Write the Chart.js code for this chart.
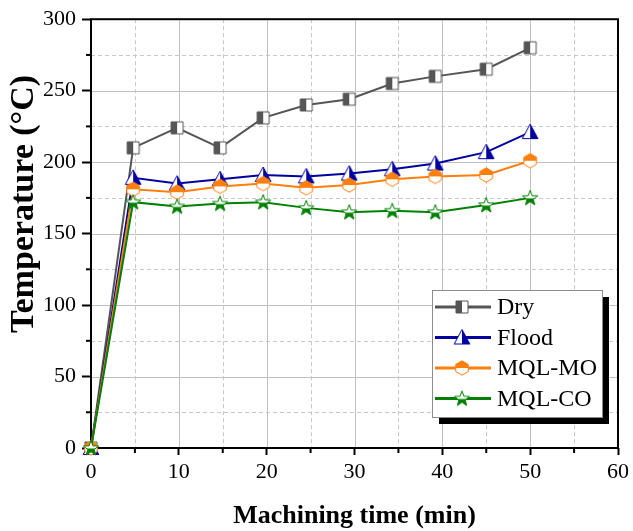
<!DOCTYPE html>
<html>
<head>
<meta charset="utf-8">
<script src="https://cdn.jsdelivr.net/npm/chart.js@4.4.1/dist/chart.umd.min.js"></script>
<style>
  html, body { margin: 0; padding: 0; background: #fff; }
  #wrap { width: 633px; height: 531px; }
</style>
</head>
<body>
<div id="wrap"><canvas id="myChart" width="633" height="531"></canvas></div>
<script>
// data
const timeMin = [0, 4.8, 9.8, 14.7, 19.6, 24.5, 29.4, 34.3, 39.2, 45, 50];
const seriesNames = ['Dry', 'Flood', 'MQL-MO', 'MQL-CO'];
const dryTemp = [0, 210, 224, 210, 231, 240, 244, 255, 260, 265, 280];
const floodTemp = [0, 189, 185, 188, 191, 190, 192, 195, 199, 207, 221];
const mqlMoTemp = [0, 181, 179, 183, 185, 182, 184, 188, 190, 191, 201];
const mqlCoTemp = [0, 172, 169, 171, 172, 168, 165, 166, 165, 170, 175];
const xTicks = [0, 10, 20, 30, 40, 50, 60];
const yTicks = [0, 50, 100, 150, 200, 250, 300];
const xTitle = 'Machining time (min)';
const yTitle = 'Temperature (°C)';

const FONT = '"Liberation Serif", "Times New Roman", serif';

// half filled marker images
const marker = (shape, color, half) => {
    const c = document.createElement('canvas');
    c.width = 18; c.height = 18;
    const g = c.getContext('2d');
    const path = () => {
        g.beginPath();
        if (shape === 'square') {
            g.rect(3, 3, 12, 12);
        } else if (shape === 'triangle') {
            g.moveTo(9, 1); g.lineTo(16.8, 15.5); g.lineTo(1.2, 15.5); g.closePath();
        } else if (shape === 'hex') {
            for (let i = 0; i < 6; i++) {
                const a = Math.PI / 2 + i * Math.PI / 3;
                g.lineTo(9 + 7.2 * Math.cos(a), 9 + 7.2 * Math.sin(a));
            }
            g.closePath();
        } else {
            for (let i = 0; i < 10; i++) {
                const r = i % 2 ? 3.3 : 8;
                const a = -Math.PI / 2 + i * Math.PI / 5;
                g.lineTo(9 + r * Math.cos(a), 9.5 + r * Math.sin(a));
            }
            g.closePath();
        }
    };
    path();
    g.fillStyle = '#fff'; g.fill();
    g.save();
    g.beginPath();
    if (half === 'left') g.rect(0, 0, 9, 18);
    if (half === 'right') g.rect(9, 0, 9, 18);
    if (half === 'top') g.rect(0, 0, 18, 9);
    if (half === 'bottom') g.rect(0, 9.5, 18, 9);
    g.clip();
    path();
    g.fillStyle = color; g.fill();
    g.restore();
    path();
    g.lineWidth = 1; g.strokeStyle = color; g.stroke();
    return c;
};

const colors = ['#555555', '#0000a0', '#ff7f0e', '#008000'];
const markers = [
    marker('square', colors[0], 'left'),
    marker('triangle', colors[1], 'right'),
    marker('hex', colors[2], 'top'),
    marker('star', colors[3], 'bottom')
];
const values = [dryTemp, floodTemp, mqlMoTemp, mqlCoTemp];

const datasets = seriesNames.map((name, i) => ({
    label: name,
    data: timeMin.map((t, j) => ({x: t, y: values[i][j]})),
    borderColor: colors[i],
    backgroundColor: colors[i],
    borderWidth: 2,
    pointStyle: markers[i],
    pointRadius: 6,
    clip: false,
    order: 4 - i
}));

// grid (solid major, dashed minor), minor ticks, frame, titles and legend box
const framePlugin = {
    id: 'frame',
    beforeDatasetsDraw(chart) {
        const {ctx, chartArea: a, scales: {x, y}} = chart;
        ctx.save();
        ctx.lineWidth = 1;
        for (let v = 5; v < 60; v += 5) {
            const px = Math.round(x.getPixelForValue(v)) + 0.5;
            ctx.strokeStyle = v % 10 ? '#c8c8c8' : '#c0c0c0';
            ctx.setLineDash(v % 10 ? [4, 3] : []);
            ctx.beginPath(); ctx.moveTo(px, a.top); ctx.lineTo(px, a.bottom); ctx.stroke();
        }
        for (let v = 25; v < 300; v += 25) {
            const py = Math.round(y.getPixelForValue(v)) + 0.5;
            ctx.strokeStyle = v % 50 ? '#c8c8c8' : '#c0c0c0';
            ctx.setLineDash(v % 50 ? [4, 3] : []);
            ctx.beginPath(); ctx.moveTo(a.left, py); ctx.lineTo(a.right, py); ctx.stroke();
        }
        ctx.setLineDash([]);
        ctx.strokeStyle = '#000';
        ctx.lineWidth = 2;
        for (let v = 5; v < 60; v += 10) {
            const px = x.getPixelForValue(v);
            ctx.beginPath(); ctx.moveTo(px, a.bottom); ctx.lineTo(px, a.bottom + 5); ctx.stroke();
        }
        for (let v = 25; v < 300; v += 50) {
            const py = y.getPixelForValue(v);
            ctx.beginPath(); ctx.moveTo(a.left, py); ctx.lineTo(a.left - 5, py); ctx.stroke();
        }
        ctx.strokeRect(a.left, a.top, a.right - a.left, a.bottom - a.top);

        // axis titles
        ctx.fillStyle = '#000';
        ctx.textAlign = 'center';
        ctx.textBaseline = 'alphabetic';
        ctx.font = 'bold 26px ' + FONT;
        ctx.fillText(xTitle, (a.left + a.right) / 2, 523);
        ctx.translate(33, 204);
        ctx.rotate(-Math.PI / 2);
        ctx.font = 'bold 34px ' + FONT;
        ctx.fillText(yTitle, 0, 0);
        ctx.restore();
    },
    afterDraw(chart) {
        const ctx = chart.ctx;
        const bx = 432, by = 290, bw = 170, bh = 127;
        ctx.save();
        ctx.fillStyle = '#000';
        ctx.fillRect(bx + 7, by + 7, bw, bh);
        ctx.fillStyle = '#fff';
        ctx.fillRect(bx, by, bw, bh);
        ctx.strokeStyle = '#8c8c8c';
        ctx.lineWidth = 1;
        ctx.strokeRect(bx + 0.5, by + 0.5, bw, bh);
        ctx.font = '24px ' + FONT;
        ctx.textBaseline = 'middle';
        chart.data.datasets.forEach((ds, i) => {
            const ry = by + 17 + i * 30.5;
            ctx.strokeStyle = ds.borderColor;
            ctx.lineWidth = 3;
            ctx.beginPath(); ctx.moveTo(bx + 3, ry); ctx.lineTo(bx + 59, ry); ctx.stroke();
            ctx.drawImage(ds.pointStyle, bx + 30 - 9, ry - 9);
            ctx.fillStyle = '#000';
            ctx.fillText(ds.label, bx + 65, ry + 1);
        });
        ctx.restore();
    }
};

new Chart(document.getElementById('myChart'), {
    type: 'line',
    data: {datasets},
    options: {
        responsive: false,
        animation: false,
        layout: {padding: {top: 11, right: 14, left: 0, bottom: 0}},
        plugins: {legend: {display: false}, tooltip: {enabled: false}},
        scales: {
            x: {
                type: 'linear', min: 0, max: 60,
                afterBuildTicks: s => { s.ticks = xTicks.map(v => ({value: v})); },
                afterFit: s => { s.height = 83; },
                grid: {drawOnChartArea: false, tickLength: 7, tickWidth: 2, tickColor: '#000'},
                border: {display: false},
                ticks: {color: '#000', font: {family: FONT, size: 22}, padding: 4, maxRotation: 0}
            },
            y: {
                min: 0, max: 300,
                afterBuildTicks: s => { s.ticks = yTicks.map(v => ({value: v})); },
                afterFit: s => { s.width = 91; },
                grid: {drawOnChartArea: false, tickLength: 9, tickWidth: 2, tickColor: '#000'},
                border: {display: false},
                ticks: {color: '#000', font: {family: FONT, size: 22}, padding: 6}
            }
        }
    },
    plugins: [framePlugin, {
        id: 'bg',
        beforeDraw(chart) {
            const c = chart.ctx;
            c.save(); c.fillStyle = '#fff'; c.fillRect(0, 0, chart.width, chart.height); c.restore();
        }
    }]
});
</script>
</body>
</html>
